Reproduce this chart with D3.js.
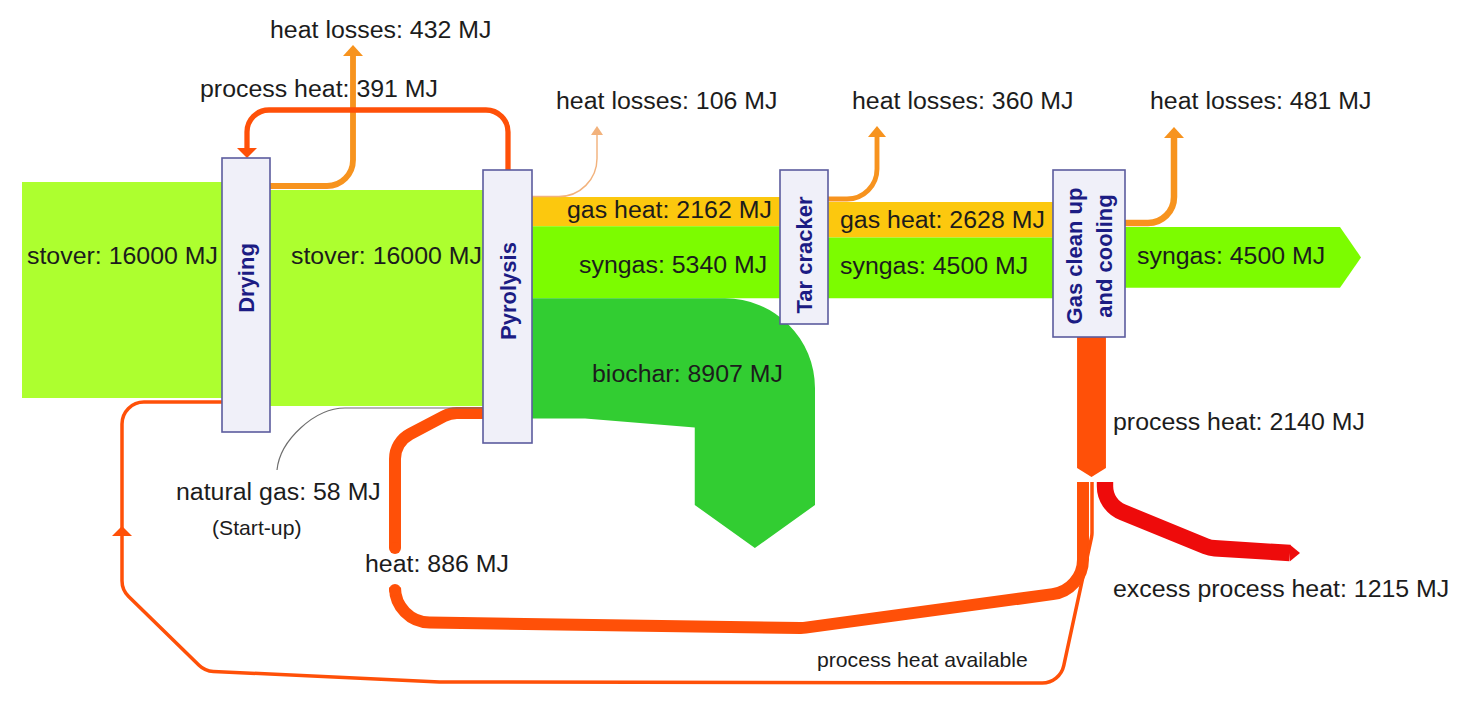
<!DOCTYPE html>
<html>
<head>
<meta charset="utf-8">
<title>stover energy flow</title>
<style>
  body { margin: 0; background: #fff; }
  text { font-family: "Liberation Sans", Arial, sans-serif; fill: #1c1c1c; }
</style>
</head>
<body>
<script src="https://cdn.jsdelivr.net/npm/d3@7"></script>
<script>
// ---- data (MJ) ----
var boxNames = ["Drying", "Pyrolysis", "Tar cracker", "Gas clean up|and cooling"];
var bandNames = ["stover", "stover", "gas heat", "syngas", "biochar", "gas heat", "syngas", "syngas"];
var bandValues = [16000, 16000, 2162, 5340, 8907, 2628, 4500, 4500];
var lossValues = [432, 106, 360, 481];          // heat losses after each box
var heatNames = ["process heat", "process heat", "heat", "excess process heat", "natural gas"];
var heatValues = [391, 2140, 886, 1215, 58];

// ---- setup ----
var W = 1464, H = 702;
var svg = d3.select("body").append("svg").attr("width", W).attr("height", H);

// band thickness from energy value
var wid = d3.scaleLinear().domain([0, 16000]).range([0, 216]);

var colors = {stover: "#adff2f", "gas heat": "#fcc80e", syngas: "#7cfc00", biochar: "#32cd32",
	loss: "#f7931e", heat: "#ff5008", excess: "#ee0b0b"};

// boxes (layout)
var boxes = [
	{x: 222, y: 158, w: 48, h: 274, ty: 278},
	{x: 483, y: 170, w: 49, h: 273, ty: 291},
	{x: 780, y: 170, w: 48, h: 154, ty: 255},
	{x: 1053, y: 170, w: 72, h: 167, ty: 256}
];
function right(i) { return boxes[i].x + boxes[i].w; }

var area = d3.area().x(function(d) { return d[0]; })
	.y0(function(d) { return d[1]; }).y1(function(d) { return d[2]; });

function rounded(pts, r) {
	var p = d3.path();
	p.moveTo(pts[0][0], pts[0][1]);
	for (var i = 1; i < pts.length - 1; i++)
		p.arcTo(pts[i][0], pts[i][1], pts[i + 1][0], pts[i + 1][1], r);
	p.lineTo(pts[pts.length - 1][0], pts[pts.length - 1][1]);
	return p.toString();
}
var poly = d3.line().curve(d3.curveLinearClosed);

function head(tip, dir, hw, len, color) {
	var x = tip[0], y = tip[1], pts;
	if (dir == "up") pts = [[x, y], [x - hw, y + len], [x + hw, y + len]];
	if (dir == "down") pts = [[x, y], [x - hw, y - len], [x + hw, y - len]];
	if (dir == "right") pts = [[x, y], [x - len, y - hw], [x - len, y + hw]];
	svg.append("path").attr("d", poly(pts)).attr("fill", color);
}
function flow(pts, r, value, color, minW) {
	return svg.append("path").attr("d", rounded(pts, r))
		.attr("fill", "none").attr("stroke", color)
		.attr("stroke-width", Math.max(wid(value), minW || 0));
}

/*===== main bands =====*/
var t0 = 197;                                  // top of pyrolysis outputs
var synBottom = t0 + wid(bandValues[2]) + wid(bandValues[3]);
var bandGeo = [
	[22, right(-1 + 1) - boxes[0].w, 182],
	[right(0), boxes[1].x, 190],
	[right(1), boxes[2].x, t0],
	[right(1), boxes[2].x, t0 + wid(bandValues[2])],
	null,
	[right(2), boxes[3].x, synBottom - wid(bandValues[6]) - wid(bandValues[5])],
	[right(2), boxes[3].x, synBottom - wid(bandValues[6])],
	[right(3), 1340, 227]
];
bandGeo.forEach(function(g, i) {
	if (!g) return;
	var h = wid(bandValues[i]);
	svg.append("path")
		.attr("d", area([[g[0], g[2], g[2] + h], [g[1], g[2], g[2] + h]]))
		.attr("fill", colors[bandNames[i]]);
	if (i == 7) // arrow tip of final syngas
		svg.append("path").attr("d", poly([[g[1], g[2]], [g[1] + 21, g[2] + h / 2], [g[1], g[2] + h]]))
			.attr("fill", colors.syngas);
});

// biochar: turns down and ends with chevron
(function() {
	var bw = wid(bandValues[4]), top = synBottom, xr = 815, xl = xr - bw, R = 90, ys = 505;
	var p = d3.path();
	p.moveTo(right(1), top);
	p.lineTo(xr - R, top);
	p.arcTo(xr, top, xr, top + R, R);
	p.lineTo(xr, ys);
	p.lineTo(xr - bw / 2, ys + 43);
	p.lineTo(xl, ys);
	p.lineTo(xl, top + bw + 9);
	p.lineTo(585, top + bw);
	p.lineTo(right(1), top + bw);
	p.closePath();
	svg.append("path").attr("d", p.toString()).attr("fill", colors.biochar);
})();

/*===== heat losses (orange) =====*/
flow([[270, 186], [353, 186], [353, 55]], 26, lossValues[0], colors.loss);
head([353, 45], "up", 10, 11, colors.loss);
flow([[532, 196.5], [597, 196.5], [597, 135]], 38, lossValues[1], "#f2b27c");
head([597, 126], "up", 6, 9, "#f2b27c");
flow([[828, 199], [877, 199], [877, 136]], 30, lossValues[2], colors.loss);
head([877, 126], "up", 9, 11, colors.loss);
flow([[1125, 223], [1174, 223], [1174, 137]], 26, lossValues[3], colors.loss);
head([1174, 127], "up", 10, 11, colors.loss);

/*===== process heat =====*/
flow([[508, 170], [508, 110], [247, 110], [247, 149]], 22, heatValues[0], colors.heat);
head([247, 158], "down", 10, 10, colors.heat);

// process heat 2140 out of gas clean up
(function() {
	var hw = wid(heatValues[1]) / 2, cx = 1091.5, y0 = right(3) && boxes[3].y + boxes[3].h, y1 = 468;
	svg.append("path").attr("d", poly([[cx - hw, y0], [cx + hw, y0], [cx + hw, y1], [cx, y1 + 9], [cx - hw, y1]]))
		.attr("fill", colors.heat);
})();

// heat 886 back to pyrolysis (broken for its label)
flow([[1083, 482], [1083, 590], [803, 628], [395, 622], [395, 590]], 35, heatValues[2], colors.heat);
flow([[395, 548], [395, 442], [450, 413], [483, 413]], 28, heatValues[2], colors.heat);
[590, 548].forEach(function(y) {
	svg.append("circle").attr("cx", 395).attr("cy", y).attr("r", wid(heatValues[2]) / 2).attr("fill", colors.heat);
});

// process heat available, loop back to drying
flow([[1092, 482], [1092, 535], [1060, 683], [440, 682], [205, 671], [122, 590], [122, 402], [222, 402]],
	22, 0, colors.heat, 3.5);
head([122, 526], "up", 10, 10, colors.heat);

// excess process heat
flow([[1105, 482], [1105, 505], [1210, 548], [1290, 553]], 28, heatValues[3], colors.excess);
head([1300, 553], "right", wid(heatValues[3]) / 2, 10, colors.excess);

// natural gas (start-up)
svg.append("path").attr("d", "M483,408L345,408C315,408,280,440,277,470")
	.attr("fill", "none").attr("stroke", "#6e6e6e").attr("stroke-width", 1.2);

/*===== boxes =====*/
var g = svg.selectAll("g.box").data(boxes).enter().append("g").attr("class", "box");
g.append("rect")
	.attr("x", function(d) { return d.x; }).attr("y", function(d) { return d.y; })
	.attr("width", function(d) { return d.w; }).attr("height", function(d) { return d.h; })
	.attr("fill", "#f0f0f9").attr("stroke", "#5c5c9e").attr("stroke-width", 1.6);
g.append("text")
	.attr("transform", function(d) { return "translate(" + (d.x + d.w / 2) + "," + d.ty + ") rotate(-90)"; })
	.attr("text-anchor", "middle").attr("dominant-baseline", "central")
	.attr("font-size", 22).attr("font-weight", "bold").style("fill", "#1c1c84")
	.each(function(d, i) {
		var lines = boxNames[i].split("|"), t = d3.select(this);
		lines.forEach(function(s, j) {
			t.append("tspan").attr("x", 0).attr("y", (j - (lines.length - 1) / 2) * 30).text(s);
		});
	});

/*===== labels =====*/
function mj(name, v) { return name + ": " + v + " MJ"; }
var labels = [
	[mj("heat losses", lossValues[0]), 270, 38, 23.5],
	[mj(heatNames[0], heatValues[0]), 200, 97, 23.5],
	[mj("heat losses", lossValues[1]), 556, 109, 23.5],
	[mj("heat losses", lossValues[2]), 852, 109, 23.5],
	[mj("heat losses", lossValues[3]), 1150, 109, 23.5],
	[mj(bandNames[0], bandValues[0]), 27, 264, 23.5],
	[mj(bandNames[1], bandValues[1]), 291, 264, 23.5],
	[mj(bandNames[2], bandValues[2]), 567, 218, 23.5],
	[mj(bandNames[3], bandValues[3]), 579, 273, 23.5],
	[mj(bandNames[4], bandValues[4]), 592, 382, 23.5],
	[mj(bandNames[5], bandValues[5]), 840, 228, 23.5],
	[mj(bandNames[6], bandValues[6]), 840, 274, 23.5],
	[mj(bandNames[7], bandValues[7]), 1137, 264, 23.5],
	[mj(heatNames[1], heatValues[1]), 1113, 430, 23.5],
	[mj(heatNames[3], heatValues[3]), 1113, 597, 23.5],
	[mj(heatNames[2], heatValues[2]), 365, 572, 23.5],
	[mj(heatNames[4], heatValues[4]), 176, 500, 23.5],
	["(Start-up)", 212, 535, 20],
	["process heat available", 817, 667, 20]
];
svg.selectAll("text.lab").data(labels).enter().append("text")
	.attr("class", "lab")
	.attr("transform", function(d) { return "translate(" + d[1] + "," + d[2] + ") scale(1.06,1)"; })
	.attr("font-size", function(d) { return d[3]; })
	.text(function(d) { return d[0]; });
</script>
</body>
</html>
